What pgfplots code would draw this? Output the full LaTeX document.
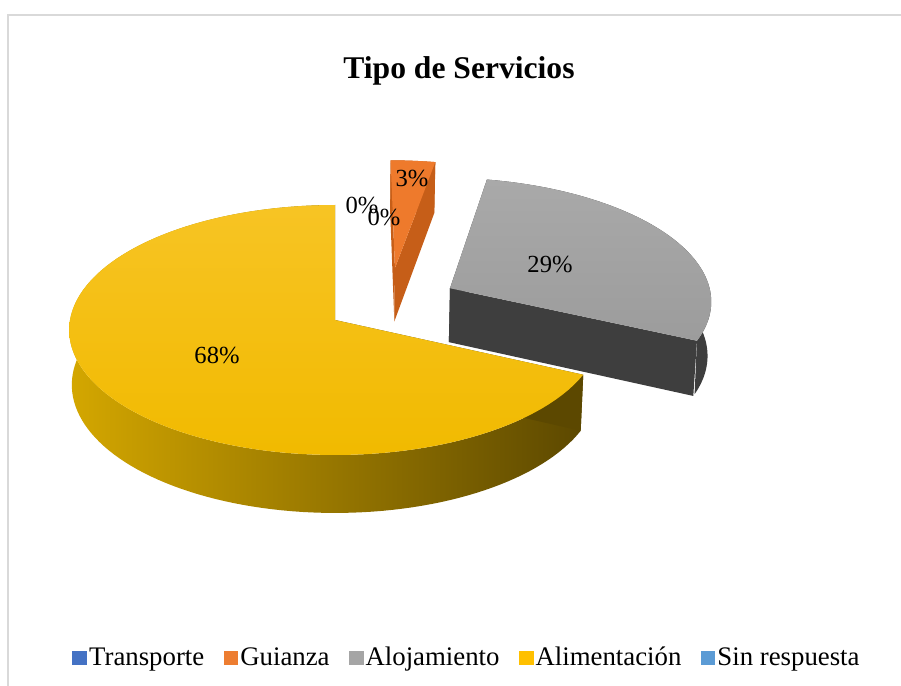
\documentclass[border=0pt]{standalone}
\usepackage{pgfplots}
\pgfplotsset{compat=1.18}
\usepackage{pgfplotstable}
\usepackage{fontspec}
\setmainfont{Liberation Serif}

\definecolor{cTra}{HTML}{4472C4}
\definecolor{cGui}{HTML}{ED7D31}
\definecolor{cAlo}{HTML}{A5A5A5}
\definecolor{cAli}{HTML}{FFC000}
\definecolor{cSin}{HTML}{5B9BD5}
\definecolor{guiTop}{HTML}{EE7A2C}
\definecolor{guiSide}{HTML}{C65E18}
\definecolor{aloTopA}{HTML}{A9A9A9}
\definecolor{aloTopB}{HTML}{9C9C9C}
\definecolor{aloSide}{HTML}{3E3E3E}
\definecolor{aliTopA}{HTML}{F7C424}
\definecolor{aliTopB}{HTML}{F1BA00}
\definecolor{aliSideL}{HTML}{D4A700}
\definecolor{aliSideR}{HTML}{5C4800}
\definecolor{frameC}{HTML}{D9D9D9}

% value in percent, explosion offset of each slice on the ground plane
\pgfplotstableread{
name value du dv
Transporte 0 0 0
Guianza 3 0.234 0.433
Alojamiento 29 0.443 0.261
Alimentacion 68 0 0
Sinrespuesta 0 0 0
}\pietable

\tikzset{declare function={
 PD(\u,\v,\z)=1+0.08*\v-0.04246*\z;
 PX(\u,\v,\z)=335+265*\u/PD(\u,\v,\z);
 PY(\u,\v,\z)=366+(124.2*\v+234.1*\z)/PD(\u,\v,\z);
 BA(\a,\b,\x)=\a+(\b-\a)*(1-abs(1-\x));
 BZ(\h,\x)=-\h*(\x>1);
 CR(\x)=min(\x,1)-max(\x-2,0);
 CZ(\h,\x)=-\h*min(max(\x-1,0),1);
 TR(\x)=(\x<1.005);
 TA(\a,\b,\x)=\a+(\b-\a)*min(\x,1);
}}

% #1 start, #2 end, #3 du, #4 dv, #5 side style, #6 cut-face colour, #7 top style, #8 depth
\newcommand\pieslice[8]{%
 \addplot[#5, draw=none, domain=0:2, samples=241, variable=\x, forget plot]
  ({PX(#3+sin(BA(#1,#2,\x)),#4+cos(BA(#1,#2,\x)),BZ(#8,\x))},
   {PY(#3+sin(BA(#1,#2,\x)),#4+cos(BA(#1,#2,\x)),BZ(#8,\x))});
 \addplot[fill=#6, draw=none, domain=0:3, samples=4, variable=\x, forget plot]
  ({PX(#3+CR(\x)*sin(#1),#4+CR(\x)*cos(#1),CZ(#8,\x))},
   {PY(#3+CR(\x)*sin(#1),#4+CR(\x)*cos(#1),CZ(#8,\x))});
 \addplot[fill=#6, draw=none, domain=0:3, samples=4, variable=\x, forget plot]
  ({PX(#3+CR(\x)*sin(#2),#4+CR(\x)*cos(#2),CZ(#8,\x))},
   {PY(#3+CR(\x)*sin(#2),#4+CR(\x)*cos(#2),CZ(#8,\x))});
 \addplot[#7, draw=none, domain=0:1.01, samples=102, variable=\x, forget plot]
  ({PX(#3+TR(\x)*sin(TA(#1,#2,\x)),#4+TR(\x)*cos(TA(#1,#2,\x)),0)},
   {PY(#3+TR(\x)*sin(TA(#1,#2,\x)),#4+TR(\x)*cos(TA(#1,#2,\x)),0)});
}

\begin{document}
\begin{tikzpicture}
\pgfplotstablegetelem{0}{value}\of\pietable\let\vTra\pgfplotsretval
\pgfplotstablegetelem{1}{value}\of\pietable\let\vGui\pgfplotsretval
\pgfplotstablegetelem{2}{value}\of\pietable\let\vAlo\pgfplotsretval
\pgfplotstablegetelem{3}{value}\of\pietable\let\vAli\pgfplotsretval
\pgfplotstablegetelem{1}{du}\of\pietable\let\uGui\pgfplotsretval
\pgfplotstablegetelem{1}{dv}\of\pietable\let\wGui\pgfplotsretval
\pgfplotstablegetelem{2}{du}\of\pietable\let\uAlo\pgfplotsretval
\pgfplotstablegetelem{2}{dv}\of\pietable\let\wAlo\pgfplotsretval
\pgfplotstablegetelem{3}{du}\of\pietable\let\uAli\pgfplotsretval
\pgfplotstablegetelem{3}{dv}\of\pietable\let\wAli\pgfplotsretval
\pgfmathsetmacro\sGui{3.6*\vTra}
\pgfmathsetmacro\eGui{\sGui+3.6*\vGui}
\pgfmathsetmacro\sAlo{\eGui}
\pgfmathsetmacro\eAlo{\sAlo+3.6*\vAlo}
\pgfmathsetmacro\sAli{\eAlo}
\pgfmathsetmacro\eAli{\sAli+3.6*\vAli}
\begin{axis}[
  hide axis, scale only axis, clip=false,
  width=450.5pt, height=343pt,
  xmin=0, xmax=901, ymin=0, ymax=686,
  legend columns=5,
  legend image code/.code={\fill[#1, draw=none] (0pt,-3.6pt) rectangle (7.4pt,3.6pt);},
  legend style={at={(0.5183,0.041)}, anchor=center, draw=none, fill=none,
    font=\fontsize{13.4}{15}\selectfont,
    /tikz/every even column/.append style={column sep=8.6pt},
    /tikz/every odd column/.append style={column sep=0pt},
    nodes={inner xsep=1pt}},
]
\addlegendimage{fill=cTra, draw=none}\addlegendentry{Transporte}
\addlegendimage{fill=cGui, draw=none}\addlegendentry{Guianza}
\addlegendimage{fill=cAlo, draw=none}\addlegendentry{Alojamiento}
\addlegendimage{fill=cAli, draw=none}\addlegendentry{Alimentación}
\addlegendimage{fill=cSin, draw=none}\addlegendentry{Sin respuesta}

\draw[frameC, line width=0.8pt] (axis cs:8,0) -- (axis cs:8,671) -- (axis cs:901,671);

\pieslice{\sGui}{\eGui}{\uGui}{\wGui}{fill=guiSide}{guiSide}{fill=guiTop}{0.236}
\pieslice{\sAlo}{\eAlo}{\uAlo}{\wAlo}{fill=aloSide}{aloSide}{top color=aloTopA, bottom color=aloTopB}{0.236}
\pieslice{\sAli}{\eAli}{\uAli}{\wAli}{left color=aliSideL, right color=aliSideR}{aliSideR}{top color=aliTopA, bottom color=aliTopB}{0.236}

\node[font=\fontsize{15.8}{18}\selectfont\bfseries, anchor=base] at (axis cs:459,607) {Tipo de Servicios};
\node[font=\fontsize{12.3}{14}\selectfont] at (axis cs:362,481) {0\%};
\node[font=\fontsize{12.3}{14}\selectfont] at (axis cs:384,469) {0\%};
\node[font=\fontsize{12.3}{14}\selectfont] at (axis cs:412,508) {3\%};
\node[font=\fontsize{12.3}{14}\selectfont] at (axis cs:550,422) {29\%};
\node[font=\fontsize{12.3}{14}\selectfont] at (axis cs:217,331) {68\%};
\end{axis}
\pgfresetboundingbox
\path (current axis.south west) rectangle (current axis.north east);
\end{tikzpicture}
\end{document}
